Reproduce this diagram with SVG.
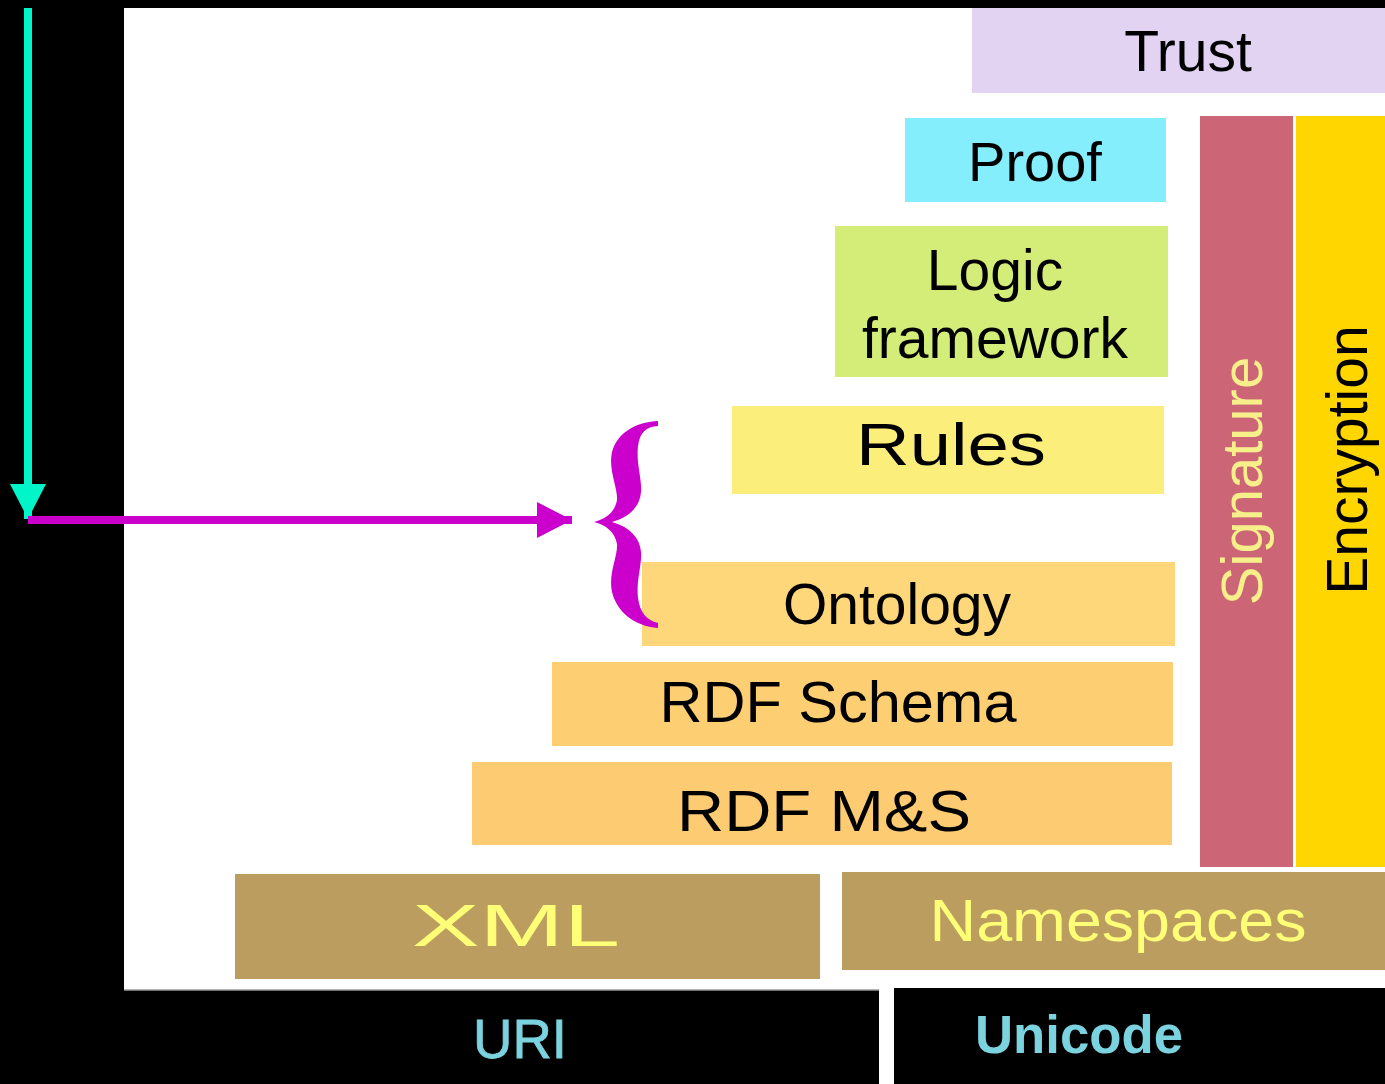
<svg xmlns="http://www.w3.org/2000/svg" width="1385" height="1084" viewBox="0 0 1385 1084">
<style>
text{font-family:"Liberation Sans",Arial,sans-serif;text-anchor:middle}
.dark{fill:#000}
.gold{fill:#BB9E5F}
.ytxt{fill:#FFFF77}
.ctxt{fill:#7AD3DF}
</style>
<defs>
<marker id="cyanHead" markerUnits="userSpaceOnUse" markerWidth="36" markerHeight="36" refX="35" refY="18" orient="auto">
<polygon points="0,0 35,18 0,36" fill="#00F5C8"/>
</marker>
<marker id="magHead" markerUnits="userSpaceOnUse" markerWidth="36" markerHeight="36" refX="35" refY="18" orient="auto">
<polygon points="0,0 35,18 0,36" fill="#CC00CC"/>
</marker>
</defs>
<rect x="0" y="0" width="1385" height="1084" fill="#000"/>
<rect x="124" y="8" width="1261" height="982" fill="#fff"/>
<rect x="879" y="985" width="15" height="99" fill="#fff"/>

<g id="node-trust">
<rect x="972" y="8" width="413" height="85" fill="#E2D3F3"/>
<text x="1188" y="71" font-size="57" class="dark">Trust</text>
</g>
<g id="node-proof">
<rect x="905" y="118" width="261" height="84" fill="#84EEFC"/>
<text x="1035" y="181" font-size="56" class="dark">Proof</text>
</g>
<g id="node-logic">
<rect x="835" y="226" width="333" height="151" fill="#D4EC78"/>
<text x="995" y="290" font-size="57" class="dark">Logic</text>
<text x="995" y="358" font-size="57" class="dark">framework</text>
</g>
<g id="node-rules">
<rect x="732" y="406" width="432" height="88" fill="#FBEE7A"/>
<text x="951" y="465" font-size="60" class="dark" textLength="190" lengthAdjust="spacingAndGlyphs">Rules</text>
</g>
<g id="node-ontology">
<rect x="642" y="562" width="533" height="84" fill="#FDD77A"/>
<text x="897" y="624" font-size="57" class="dark">Ontology</text>
</g>
<g id="node-rdfschema">
<rect x="552" y="662" width="621" height="84" fill="#FDCE72"/>
<text x="838" y="722" font-size="57" class="dark" textLength="357" lengthAdjust="spacingAndGlyphs">RDF Schema</text>
</g>
<g id="node-rdfms">
<rect x="472" y="762" width="700" height="83" fill="#FDCC72"/>
<text x="824" y="831" font-size="58" class="dark" textLength="294" lengthAdjust="spacingAndGlyphs">RDF M&amp;S</text>
</g>
<g id="node-signature">
<rect x="1200" y="116" width="93" height="751" fill="#CC6677"/>
<text transform="translate(1262,481) rotate(-90)" font-size="58" fill="#F7F08A">Signature</text>
</g>
<g id="node-encryption">
<rect x="1296" y="116" width="89" height="751" fill="#FFD600"/>
<text transform="translate(1367,460) rotate(-90)" font-size="57" class="dark">Encryption</text>
</g>
<g id="node-xml">
<rect x="235" y="874" width="585" height="105" class="gold"/>
<text x="516" y="946" font-size="60" class="ytxt" textLength="208" lengthAdjust="spacingAndGlyphs">XML</text>
</g>
<g id="node-namespaces">
<rect x="842" y="872" width="543" height="98" class="gold"/>
<text x="1118" y="941" font-size="60" class="ytxt" textLength="377" lengthAdjust="spacingAndGlyphs">Namespaces</text>
</g>
<g id="node-uri">
<rect x="0" y="990" width="879" height="94" fill="#000"/>
<line x1="124" y1="990" x2="879" y2="990" stroke="#999" stroke-width="1.5"/>
<text x="520" y="1058" font-size="56" class="ctxt" stroke="#7AD3DF" stroke-width="0.8" textLength="94" lengthAdjust="spacingAndGlyphs">URI</text>
</g>
<g id="node-unicode">
<rect x="894" y="988" width="491" height="96" fill="#000"/>
<text x="1079" y="1053" font-size="53" font-weight="bold" class="ctxt" textLength="208" lengthAdjust="spacingAndGlyphs">Unicode</text>
</g>

<g id="connectors">
<line x1="28" y1="8" x2="28" y2="519" stroke="#00F5C8" stroke-width="8" marker-end="url(#cyanHead)"/>
<line x1="28" y1="520" x2="572" y2="520" stroke="#CC00CC" stroke-width="8" marker-end="url(#magHead)"/>
<path id="brace" fill="#CC00CC" d="M 658 421 C 634 422 617 434 612 452 C 608 470 618 488 617 500 C 615 512 606 519 594 522 C 606 525 615 532 617 544 C 618 556 608 574 612 592 C 617 612 634 626 658 628 L 658 623 C 646 620 640 612 638 598 C 636 580 642 566 641 552 C 640 538 630 527 612 522 C 630 517 640 506 641 492 C 642 478 636 464 638 446 C 640 432 646 427 658 426 Z"/>
</g>
</svg>
